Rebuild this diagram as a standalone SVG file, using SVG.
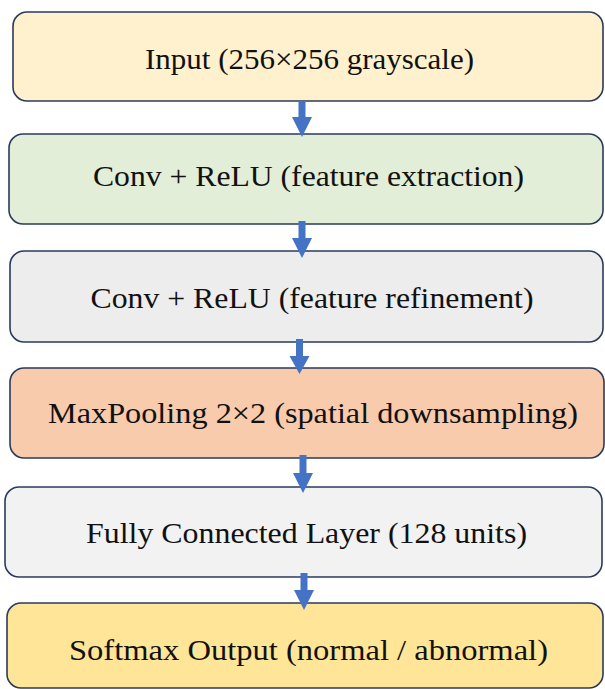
<svg xmlns="http://www.w3.org/2000/svg" width="605" height="689" viewBox="0 0 605 689">
<style>
.box{stroke:#2B3A5C;stroke-width:1.6}
.lbl{font-family:"Liberation Serif","Times New Roman",serif;font-size:30px;fill:#111;text-anchor:middle}
.arr{fill:#4472C4}
</style>
<rect width="605" height="689" fill="#fff"/>
<g id="n1"><rect class="box" x="13" y="12" width="590" height="89" rx="14" fill="#FFF1CE"/><text class="lbl" x="309.5" y="69" textLength="329" lengthAdjust="spacingAndGlyphs">Input (256×256 grayscale)</text></g>
<g id="n2"><rect class="box" x="9" y="134" width="594" height="90" rx="14" fill="#E2EED8"/><text class="lbl" x="308.5" y="186" textLength="431" lengthAdjust="spacingAndGlyphs">Conv + ReLU (feature extraction)</text></g>
<g id="n3"><rect class="box" x="10" y="251" width="593" height="91" rx="14" fill="#EDEDED"/><text class="lbl" x="312" y="308" textLength="443" lengthAdjust="spacingAndGlyphs">Conv + ReLU (feature refinement)</text></g>
<g id="n4"><rect class="box" x="10" y="368" width="594" height="90" rx="14" fill="#F7CBAC"/><text class="lbl" x="313" y="423" textLength="530" lengthAdjust="spacingAndGlyphs">MaxPooling 2×2 (spatial downsampling)</text></g>
<g id="n5"><rect class="box" x="5" y="487" width="597" height="90" rx="14" fill="#F2F2F2"/><text class="lbl" x="306.5" y="543" textLength="441" lengthAdjust="spacingAndGlyphs">Fully Connected Layer (128 units)</text></g>
<g id="n6"><rect class="box" x="7" y="603" width="596" height="85" rx="14" fill="#FFE598"/><text class="lbl" x="308.5" y="660" textLength="479" lengthAdjust="spacingAndGlyphs">Softmax Output (normal / abnormal)</text></g>
<g id="connectors">
<polygon class="arr" points="298.5,101 305.5,101 305.5,117 312,117 302,137 292,117 298.5,117"/>
<polygon class="arr" points="298.5,221 305.5,221 305.5,238 312,238 302,258 292,238 298.5,238"/>
<polygon class="arr" points="296,339 303,339 303,356 309.5,356 299.5,374 289.5,356 296,356"/>
<polygon class="arr" points="299.5,455 306.5,455 306.5,473 313,473 303,493 293,473 299.5,473"/>
<polygon class="arr" points="300.5,573 307.5,573 307.5,590 314,590 304,610 294,590 300.5,590"/>
</g>
</svg>
